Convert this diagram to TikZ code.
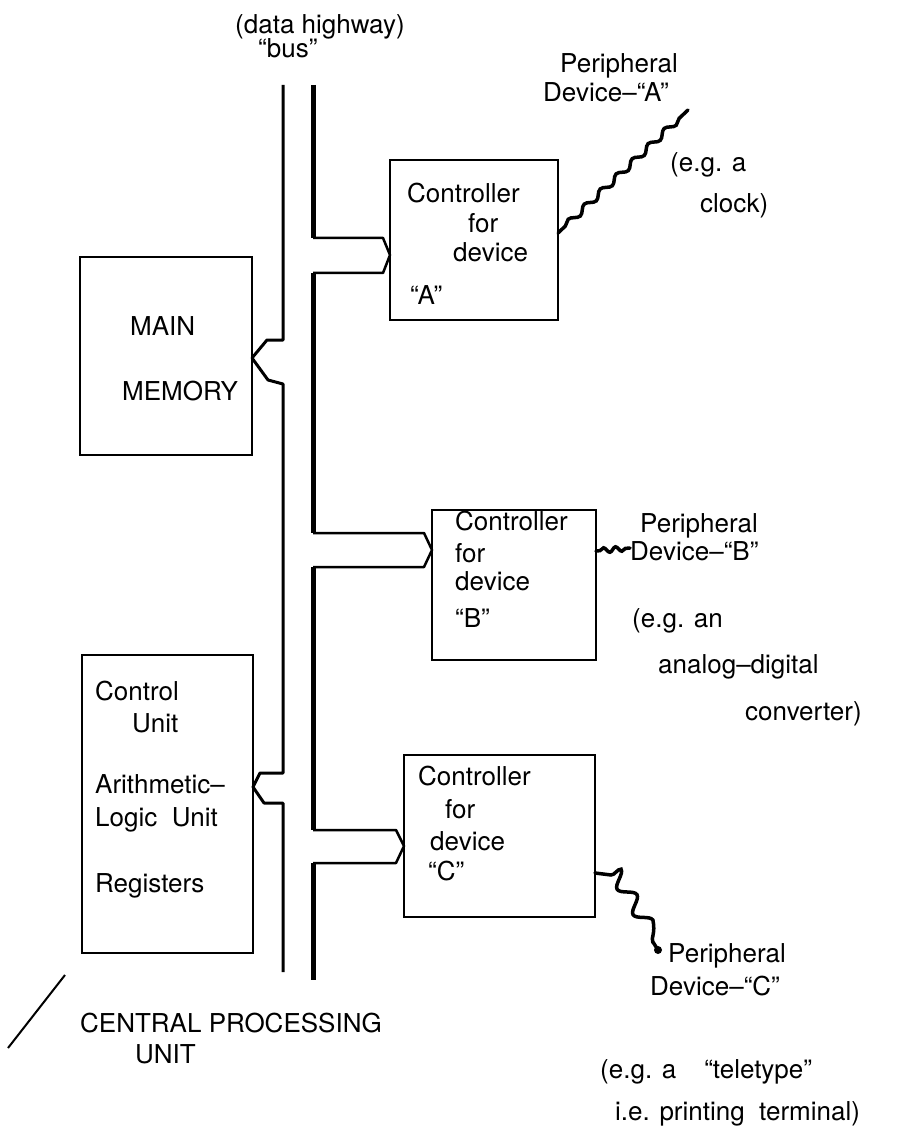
\documentclass[tikz,border=0pt]{standalone}
\usepackage{fontspec}
\setmainfont{TeX Gyre Heros}
\usepackage{tikz}
\usetikzlibrary{calc, decorations.pathmorphing}

\begin{document}
\begin{tikzpicture}[
        x=1pt, y=-1pt,
        unit/.style={rectangle, draw, line width=2.5pt, inner sep=0pt, outer sep=0pt},
        lbl/.style={anchor=base west, inner sep=0pt, font=\fontsize{26}{30}\selectfont},
        busline/.style={line width=3pt, line join=round},
        mainbus/.style={line width=5pt},
        tap/.style={line width=2.5pt, line join=round},
        wire/.style={line width=3.5pt, line cap=round, decorate, decoration={snake, segment length=22pt, amplitude=3pt, pre length=10pt, post length=3pt}}
    ]
        \useasboundingbox (0, 0) rectangle (909, 1147);
        % units on the bus
        \node[unit, minimum width=172pt, minimum height=198pt] (mem) at (166, 356) {};
        \node[unit, minimum width=171pt, minimum height=298pt] (cpu) at (167.5, 804) {};
        \node[unit, minimum width=168pt, minimum height=160pt] (ctrlA) at (474, 240) {};
        \node[unit, minimum width=164pt, minimum height=150pt] (ctrlB) at (514, 585) {};
        \node[unit, minimum width=191pt, minimum height=162pt] (ctrlC) at (499.5, 836) {};
        % free ends of the device lines
        \coordinate (devA) at (688, 110);
        \coordinate (devB) at (630, 548);
        \coordinate (devC) at (658, 950);
        % data highway
        \draw[busline] (283, 85) -- (283, 340) -- (267, 340) -- (mem.east |- 0, 358) -- (268, 380) -- (283, 384) -- (283, 773) -- (260, 773) -- (cpu.east |- 0, 787) -- (264, 803) -- (283, 803) -- (283, 972);
        \draw[mainbus] (313, 85) -- (313, 238) (313, 273) -- (313, 533) (313, 567) -- (313, 830) (313, 863) -- (313, 980);
        \draw[tap] (313, 238) -- (383, 238) -- (ctrlA.west |- 0, 255) -- (383, 273) -- (313, 273);
        \draw[tap] (313, 533) -- (424, 533) -- (ctrlB.west |- 0, 550) -- (424, 567) -- (313, 567);
        \draw[tap] (313, 830) -- (396, 830) -- (ctrlC.west |- 0, 846) -- (396, 863) -- (313, 863);
        % lines to the peripheral devices
        \draw[wire] (ctrlA.east |- 0, 233) -- (devA);
        \draw[wire, decoration={snake, segment length=12pt, amplitude=2.5pt, pre length=4pt, post length=2pt}] (ctrlB.east |- 0, 551) -- (devB);
        \draw[wire, decoration={snake, segment length=30pt, amplitude=7pt, pre length=16pt, post length=4pt}] (ctrlC.east |- 0, 873) -- (611, 875) -- (devC);
        \fill (devC) circle (4pt);
        \draw[line width=2pt] (65, 975) -- (8, 1048);
        % labels
        \node[lbl] (hwy) at (235, 34) {(data highway)};
        \node[lbl] (bus) at (258, 58) {``bus''};
        \node[lbl] (perA1) at (560, 73) {Peripheral};
        \node[lbl] (perA2) at (543, 102) {Device--``A''};
        \node[lbl] (egA1) at (670, 172) {(e.g. a};
        \node[lbl] (egA2) at (700, 213) {clock)};
        \node[lbl] (memT1) at (130, 335) {MAIN};
        \node[lbl] (memT2) at (122, 400) {MEMORY};
        \node[lbl] (cA1) at (407, 203) {Controller};
        \node[lbl] (cA2) at (468, 233) {for};
        \node[lbl] (cA3) at (453, 262) {device};
        \node[lbl] (cA4) at (410, 305) {``A''};
        \node[lbl] (cB1) at (455, 530) {Controller};
        \node[lbl] (cB2) at (455, 562) {for};
        \node[lbl] (cB3) at (455, 590) {device};
        \node[lbl] (cB4) at (455, 627) {``B''};
        \node[lbl] (perB1) at (640, 532) {Peripheral};
        \node[lbl] (perB2) at (630, 560) {Device--``B''};
        \node[lbl] (egB1) at (632, 627) {(e.g. an};
        \node[lbl] (egB2) at (658, 673) {analog--digital};
        \node[lbl] (egB3) at (745, 720) {converter)};
        \node[lbl] (cpuT1) at (95, 700) {Control};
        \node[lbl] (cpuT2) at (132, 732) {Unit};
        \node[lbl] (cpuT3) at (95, 793) {Arithmetic--};
        \node[lbl] (cpuT4) at (95, 826) {Logic\ \ Unit};
        \node[lbl] (cpuT5) at (95, 892) {Registers};
        \node[lbl] (cC1) at (418, 785) {Controller};
        \node[lbl] (cC2) at (445, 818) {for};
        \node[lbl] (cC3) at (430, 850) {device};
        \node[lbl] (cC4) at (428, 880) {``C''};
        \node[lbl] (perC1) at (668, 962) {Peripheral};
        \node[lbl] (perC2) at (650, 995) {Device--``C''};
        \node[lbl] (egC1) at (600, 1078) {(e.g. a\hspace{28pt}``teletype''};
        \node[lbl] (egC2) at (615, 1120) {i.e. printing\ \ terminal)};
        \node[lbl] (cpuName1) at (80, 1032) {CENTRAL PROCESSING};
        \node[lbl] (cpuName2) at (135, 1063) {UNIT};
\end{tikzpicture}
\end{document}
